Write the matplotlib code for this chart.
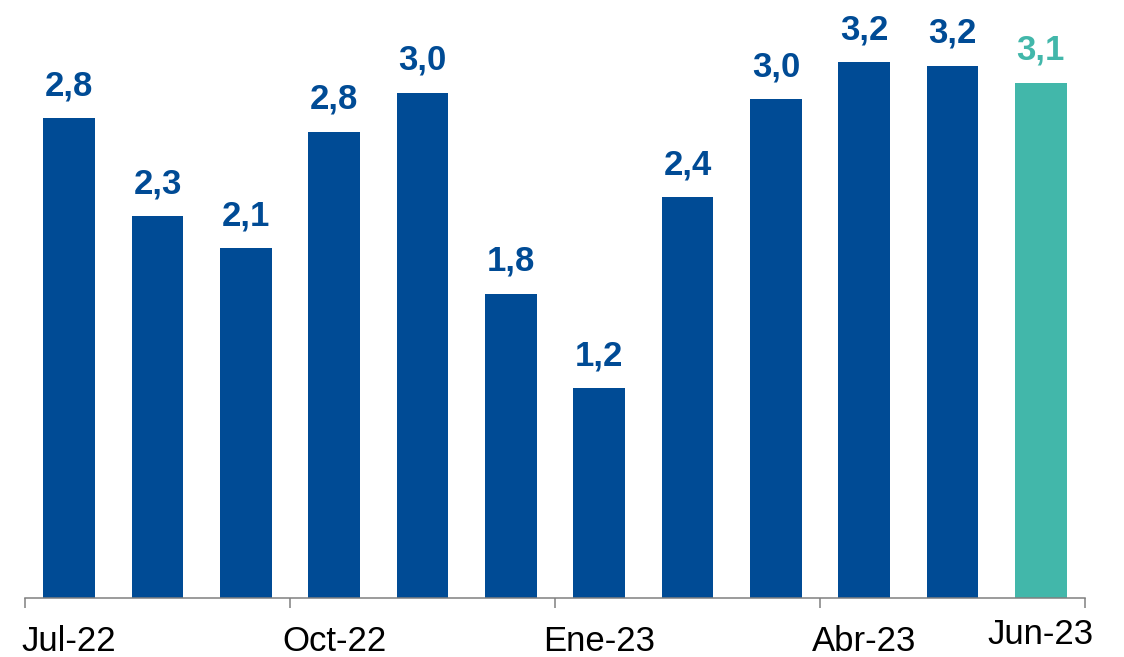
import matplotlib
matplotlib.use('Agg')
import matplotlib.pyplot as plt

plt.rcParams['font.family']=['Liberation Sans','DejaVu Sans']

months=['Jul-22','Ago-22','Sep-22','Oct-22','Nov-22','Dic-22','Ene-23','Feb-23','Mar-23','Abr-23','May-23','Jun-23']
values=[2.84,2.26,2.07,2.76,2.99,1.80,1.24,2.37,2.95,3.17,3.15,3.05]
value_labels=['2,8','2,3','2,1','2,8','3,0','1,8','1,2','2,4','3,0','3,2','3,2','3,1']
shown_months=[0,3,6,9,11]

BLUE='#004B95'; TEAL='#42B7AA'; GRAY='#808080'
colors=[BLUE]*11+[TEAL]

fig=plt.figure(figsize=(11.24,6.57),dpi=100)
ax=fig.add_axes([25/1124,59/657,1060/1124,598/657])
x=list(range(len(values)))
ax.bar(x,values,width=0.585,color=colors)
ax.set_xlim(-0.5,11.5); ax.set_ylim(0,598/169)

for i,(v,lab,c) in enumerate(zip(values,value_labels,colors)):
    ax.annotate(lab,xy=(i,v),xytext=(0,16.5),textcoords='offset points',ha='center',va='baseline',
                fontsize=25,fontweight='bold',color=c)

for i in shown_months:
    off=-33 if i==len(months)-1 else -38
    ax.annotate(months[i],xy=(i,0),xytext=(0,off),textcoords='offset points',ha='center',va='baseline',
                fontsize=25,color='black',annotation_clip=False)

for s in ['top','right','left']: ax.spines[s].set_visible(False)
ax.spines['bottom'].set_color(GRAY); ax.spines['bottom'].set_linewidth(1.1)
ax.set_yticks([])
ax.set_xticks([])
ax.set_xticks([-0.5,2.5,5.5,8.5,11.5],minor=True)
ax.tick_params(axis='x',which='minor',length=7.2,width=1.1,color=GRAY,direction='out',labelbottom=False)

fig.savefig('out.png',dpi=100)
